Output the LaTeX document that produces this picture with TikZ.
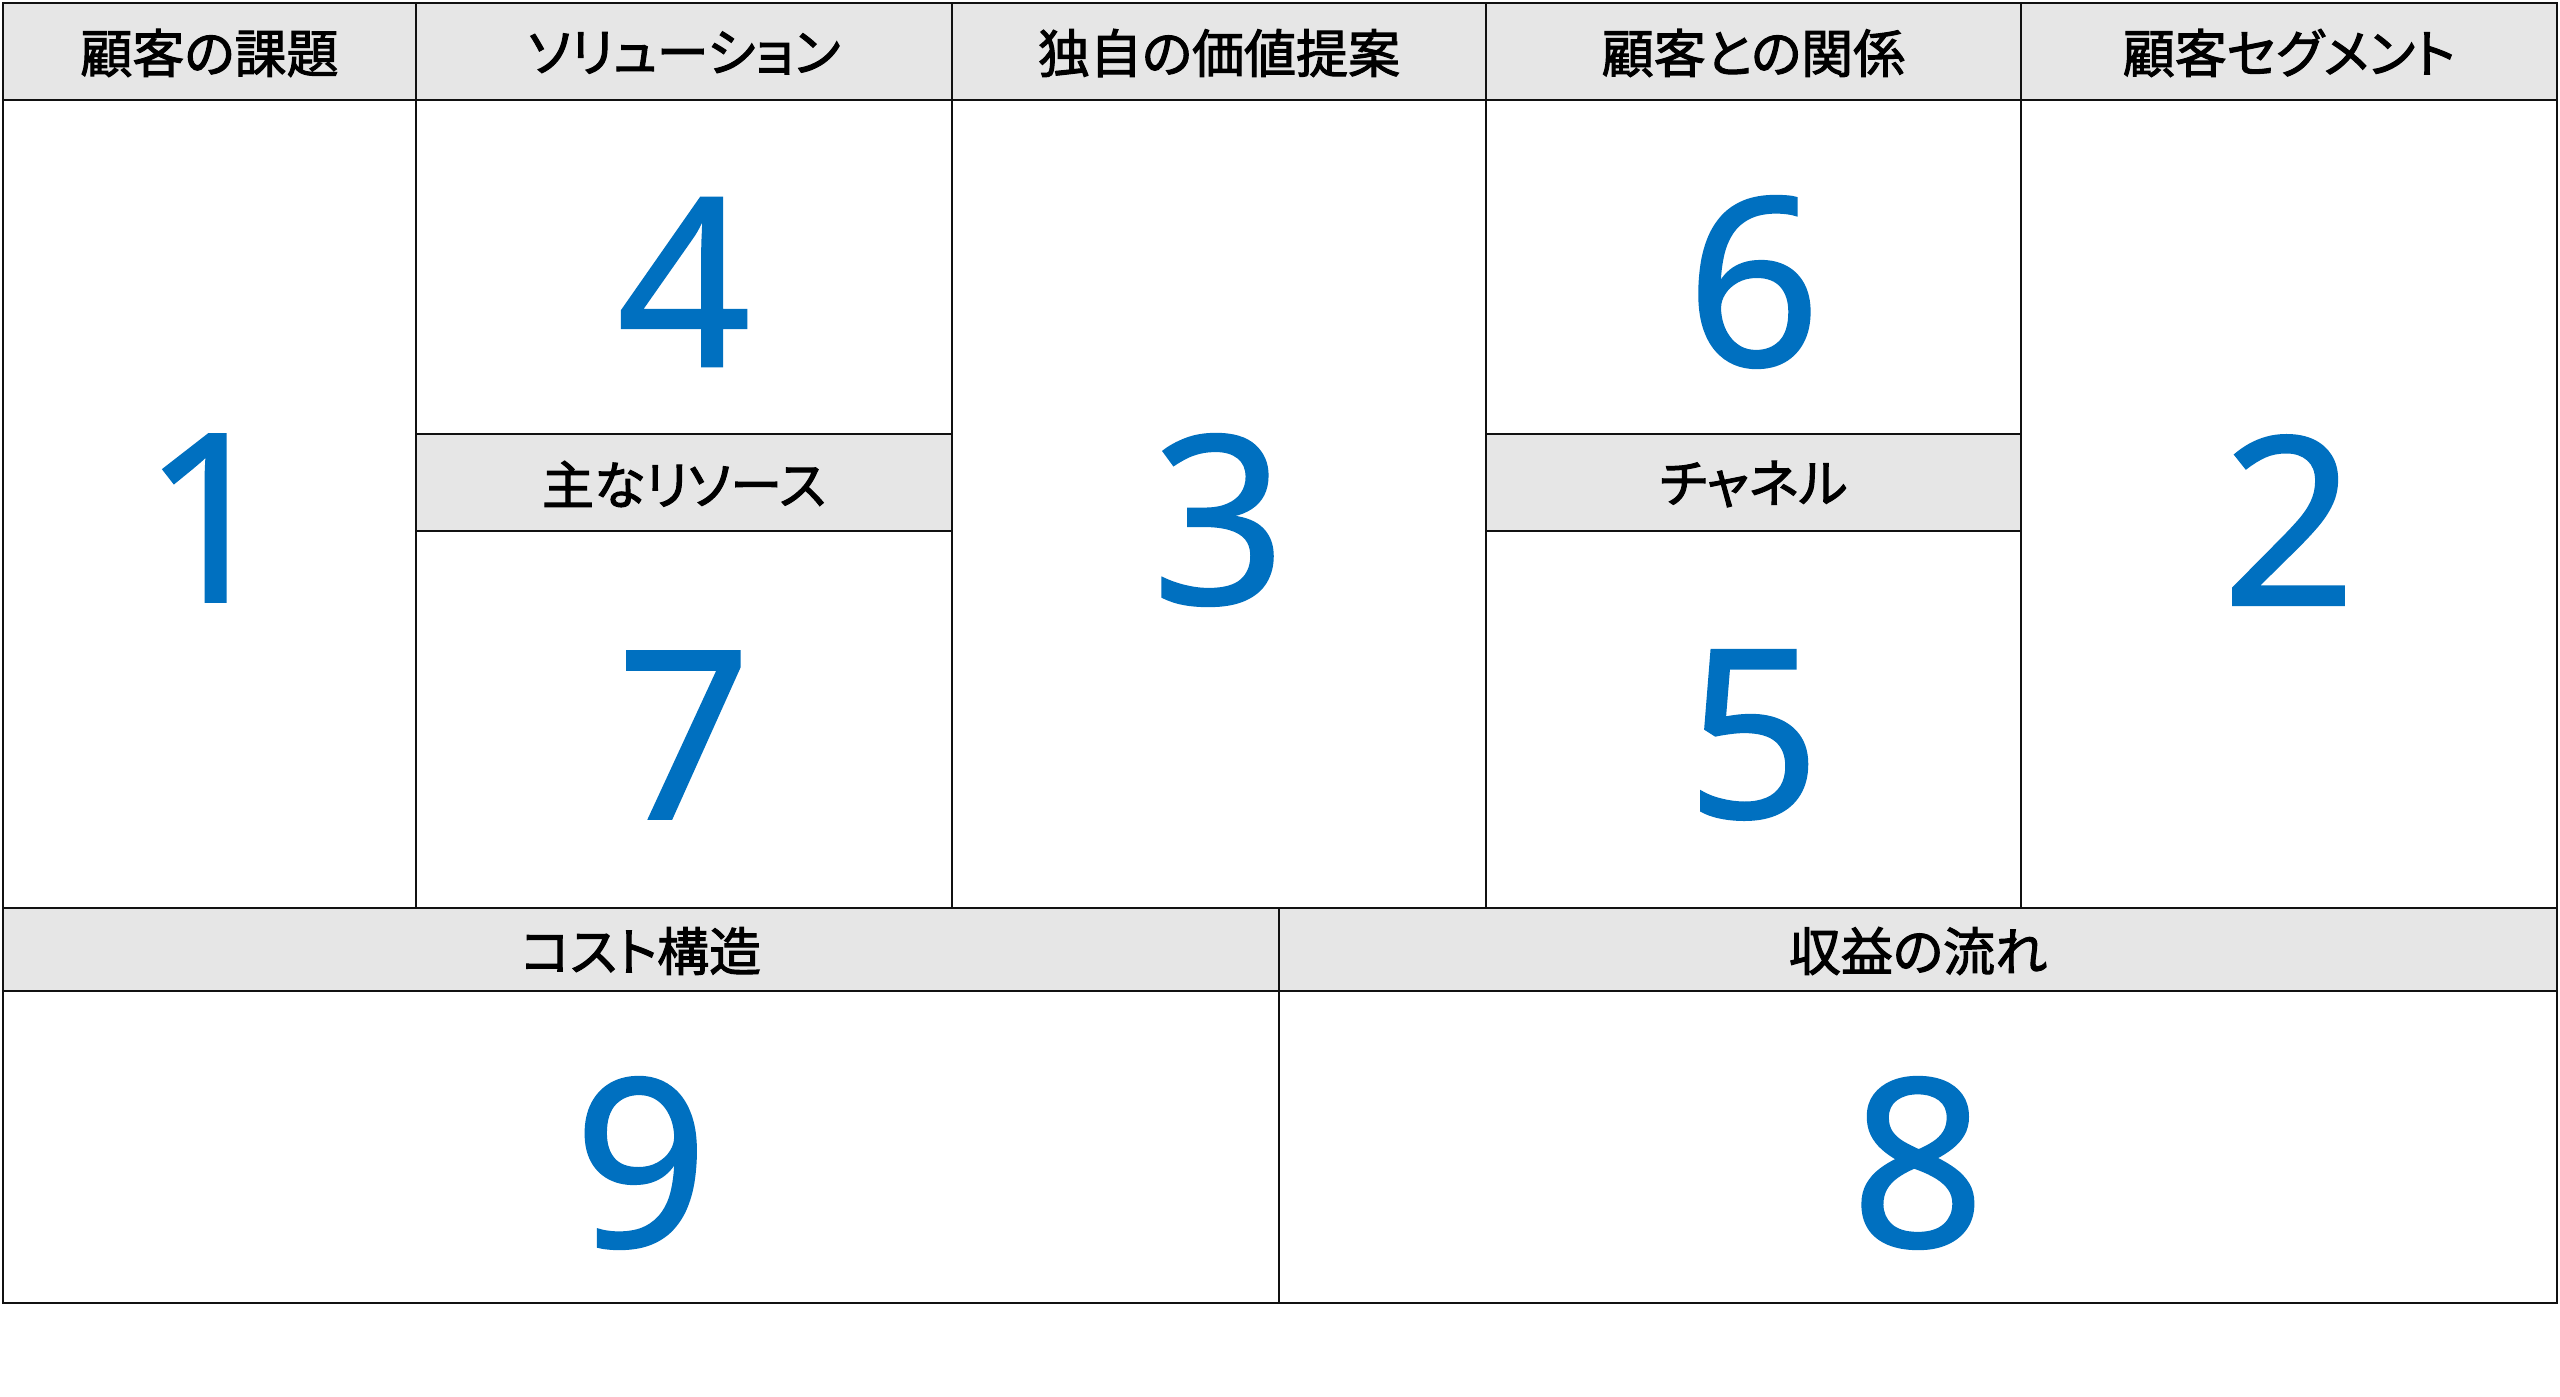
\documentclass[tikz,border=0pt]{standalone}
\usepackage{fontspec}
\newfontfamily\jpfont[RawFeature=+palt,FakeBold=2]{Noto Sans CJK JP}
\newfontfamily\numfont[FakeBold=0.8]{Noto Sans}
\definecolor{linecol}{HTML}{111111}
\definecolor{headgray}{HTML}{E6E6E6}
\definecolor{numblue}{HTML}{0070C0}
\begin{document}
\begin{tikzpicture}[x=1pt,y=-1pt,
  gridline/.style={draw=linecol, line width=2.6pt},
  headfill/.style={fill=headgray},
  headtext/.style={font=\jpfont\fontsize{52}{52}\selectfont, text=black, inner sep=0pt, anchor=center},
  bignum/.style={font=\numfont\fontsize{235}{235}\selectfont, text=numblue, inner sep=0pt, anchor=center}]
\fill[white] (0,0) rectangle (2560,1397);
\useasboundingbox (0,0) rectangle (2560,1397);
% header fills
\fill[headfill] (3,3) rectangle (2557,100);
\fill[headfill] (416,434) rectangle (952,531);
\fill[headfill] (1486,434) rectangle (2021,531);
\fill[headfill] (3,908) rectangle (2557,991);
% grid
\draw[gridline] (3,3) rectangle (2557,1303);
\draw[gridline] (3,100) -- (2557,100);
\draw[gridline] (416,3) -- (416,908);
\draw[gridline] (952,3) -- (952,908);
\draw[gridline] (1486,3) -- (1486,908);
\draw[gridline] (2021,3) -- (2021,908);
\draw[gridline] (416,434) -- (952,434);
\draw[gridline] (416,531) -- (952,531);
\draw[gridline] (1486,434) -- (2021,434);
\draw[gridline] (1486,531) -- (2021,531);
\draw[gridline] (3,908) -- (2557,908);
\draw[gridline] (3,991) -- (2557,991);
\draw[gridline] (1279,908) -- (1279,1303);
% headers
\node[headtext] (h1) at (209.5,53) {顧客の課題};
\node[headtext] (h2) at (684,53) {ソリューション};
\node[headtext] (h3) at (1219,53) {独自の価値提案};
\node[headtext] (h4) at (1753.5,53) {顧客との関係};
\node[headtext] (h5) at (2289,53) {顧客セグメント};
\node[headtext] (h6) at (684,484) {主なリソース};
\node[headtext] (h7) at (1753.5,484) {チャネル};
\node[headtext] (h8) at (641,951) {コスト構造};
\node[headtext] (h9) at (1918,951) {収益の流れ};
% numbers
\node[bignum] (n1) at (209.5,518) {1};
\node[bignum] (n4) at (684,282) {4};
\node[bignum] (n7) at (684,735) {7};
\node[bignum] (n3) at (1219,520) {3};
\node[bignum] (n6) at (1753.5,282) {6};
\node[bignum] (n5) at (1753.5,735) {5};
\node[bignum] (n2) at (2289,520) {2};
\node[bignum] (n9) at (641,1163) {9};
\node[bignum] (n8) at (1918,1163) {8};
\end{tikzpicture}
\end{document}
